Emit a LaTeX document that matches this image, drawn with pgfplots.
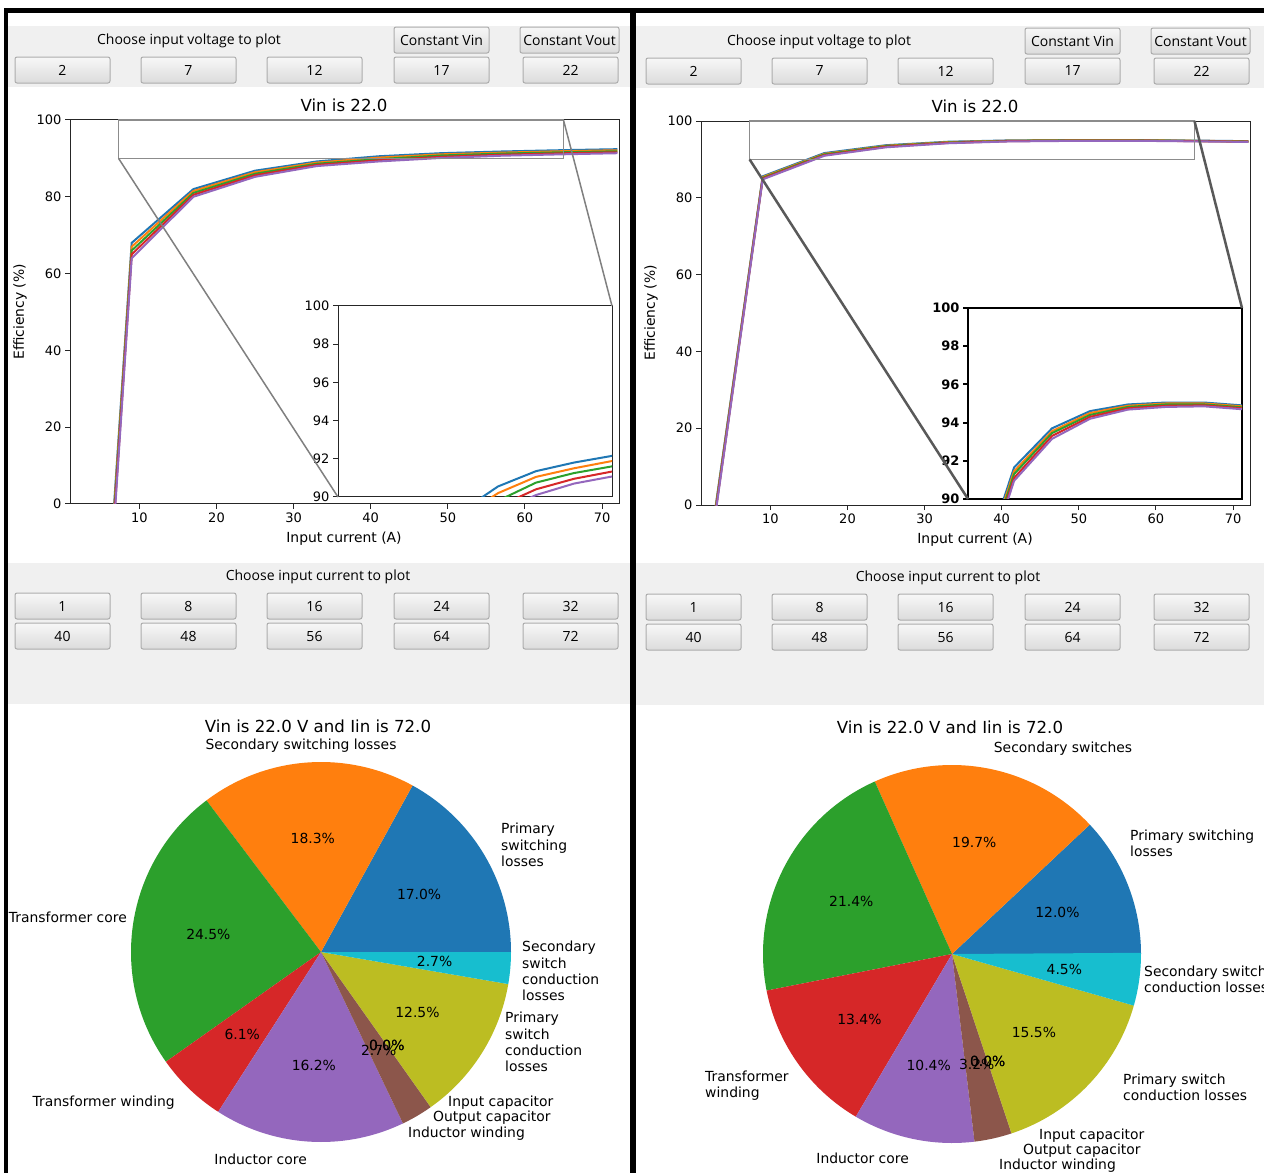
\documentclass[border=0pt]{standalone}
\usepackage{fontspec}
\setmainfont{DejaVu Sans}
\newfontfamily\guifont{Open Sans}
\usepackage{pgfplots}
\usepackage{pgfplotstable}
\pgfplotsset{compat=1.18}

\definecolor{tabblue}{HTML}{1F77B4}
\definecolor{taborange}{HTML}{FF7F0E}
\definecolor{tabgreen}{HTML}{2CA02C}
\definecolor{tabred}{HTML}{D62728}
\definecolor{tabpurple}{HTML}{9467BD}
\definecolor{tabbrown}{HTML}{8C564B}
\definecolor{tabpink}{HTML}{E377C2}
\definecolor{tabgray}{HTML}{7F7F7F}
\definecolor{tabolive}{HTML}{BCBD22}
\definecolor{tabcyan}{HTML}{17BECF}
\definecolor{guigray}{HTML}{F0F0F0}
\definecolor{btnline}{HTML}{ACACAC}

\newcommand\tickfs{\fontsize{13}{15}\selectfont}
\newcommand\labfs{\fontsize{13.9}{16.3}\selectfont}
\newcommand\titfs{\fontsize{16.6}{19}\selectfont}
\newcommand\guifs{\guifont\fontsize{14}{16}\selectfont}

% efficiency (%) vs input current (A), one column per curve
\pgfplotstableread{
I   b       o       g       r       p
1   -171    -173    -175    -177    -179
9   68.0    67.0    66.0    65.0    64.0
17  82.0    81.5    81.0    80.5    80.0
25  86.8    86.4    86.0    85.6    85.2
33  89.2    88.9    88.6    88.3    88.0
41  90.55   90.2    89.8    89.5    89.2
49  91.35   91.05   90.75   90.4    90.1
57  91.8    91.5    91.25   90.95   90.7
65  92.15   91.88   91.6    91.33   91.07
72  92.4    92.12   91.85   91.6    91.35
}\effL

\pgfplotstableread{
I   b       o       g       r       p
1   -27     -27.5   -28     -28.5   -29
9   85.6    85.4    85.2    85.0    84.8
17  91.65   91.45   91.3    91.1    90.95
25  93.7    93.55   93.45   93.3    93.15
33  94.6    94.5    94.4    94.3    94.2
41  94.95   94.88   94.82   94.75   94.68
49  95.05   95.0    94.95   94.88   94.82
57  95.05   95.0    94.95   94.9    94.85
65  94.9    94.85   94.8    94.75   94.7
72  94.75   94.7    94.65   94.6    94.55
}\effR

\newcommand\curves[1]{%
  \addplot[tabblue] table[x=I,y=b]{#1};
  \addplot[taborange] table[x=I,y=o]{#1};
  \addplot[tabgreen] table[x=I,y=g]{#1};
  \addplot[tabred] table[x=I,y=r]{#1};
  \addplot[tabpurple] table[x=I,y=p]{#1};
}

\pgfplotsset{
  eff/.style={scale only axis, width=549pt, height=384pt, anchor=south west,
    xmin=1, xmax=72.2, ymin=0, ymax=100,
    xtick={10,20,...,70}, ytick={0,20,...,100},
    tick align=outside, xtick pos=left, ytick pos=left, major tick length=5pt,
    axis line style={black!85, line width=1pt}, tick style={black!85, line width=1pt},
    ticklabel style={font=\tickfs}, /pgf/number format/assume math mode=true,
    every axis plot/.append style={line width=2pt, mark=none}},
  zoom/.style={scale only axis, width=274pt, height=191pt, anchor=south west,
    xmin=7.3, xmax=65, ymin=90, ymax=100, xtick=\empty, ytick={90,92,...,100},
    tick align=outside, ytick pos=left, major tick length=5pt,
    axis background/.style={fill=white},
    axis line style={black!85, line width=1pt}, tick style={black!85, line width=1pt},
    ticklabel style={font=\tickfs}, /pgf/number format/assume math mode=true,
    every axis plot/.append style={line width=2pt, mark=none}},
  pie/.style={x=190pt, y=190pt, xmin=-1.1, xmax=1.1, ymin=-1.1, ymax=1.1,
    hide axis, clip=false, anchor=origin}
}

\tikzset{btn/.style={draw=btnline, line width=1pt, rounded corners=2pt,
  top color=white!97!black, bottom color=white!86!black}}

\begin{document}
\begin{tikzpicture}

% window background, button bands and buttons
\begin{scope}[x=1pt,y=-1pt]
\fill[white] (0,0) rectangle (1264,1173);
\fill[guigray] (8,26) rectangle (630,87);
\fill[guigray] (636,26) rectangle (1264,88);
\fill[guigray] (8,563) rectangle (630,704);
\fill[guigray] (636,563) rectangle (1264,705);
\foreach \dx/\dy in {0/0,631/1}{
  \foreach \xa/\xb/\t in {15/110/2,141/236/7,267/362/12,394/489/17,523/618/22}{
    \draw[btn] ({\xa+\dx},{57+\dy}) rectangle ({\xb+\dx},{83+\dy});
    \node[font=\guifs] at ({(\xa+\xb)/2+\dx},{70+\dy}) {\t};
  }
  \foreach \xa/\xb/\t/\u in {15/110/1/40,141/236/8/48,267/362/16/56,394/489/24/64,523/618/32/72}{
    \draw[btn] ({\xa+\dx},{593+\dy}) rectangle ({\xb+\dx},{619+\dy});
    \node[font=\guifs] at ({(\xa+\xb)/2+\dx},{606+\dy}) {\t};
    \draw[btn] ({\xa+\dx},{623+\dy}) rectangle ({\xb+\dx},{649+\dy});
    \node[font=\guifs] at ({(\xa+\xb)/2+\dx},{636+\dy}) {\u};
  }
  \draw[btn] ({394+\dx},{27+\dy}) rectangle ({489+\dx},{53+\dy});
  \node[font=\guifs] at ({441.5+\dx},{40+\dy}) {Constant Vin};
  \draw[btn] ({520+\dx},{27+\dy}) rectangle ({619+\dx},{53+\dy});
  \node[font=\guifs] at ({569.5+\dx},{40+\dy}) {Constant Vout};
}
\node[font=\guifs] at (189,41) {Choose input voltage to plot};
\node[font=\guifs] at (819,42) {Choose input voltage to plot};
\node[font=\guifs] at (318,577) {Choose input current to plot};
\node[font=\guifs] at (948,578) {Choose input current to plot};

% plot titles and axis labels
\node[font=\titfs] at (344,105) {Vin is 22.0};
\node[font=\titfs] at (975,106) {Vin is 22.0};
\node[font=\labfs, rotate=90] at (20,312) {Efficiency (\%)};
\node[font=\labfs, rotate=90] at (651,313) {Efficiency (\%)};
\node[font=\labfs] at (344,539) {Input current (A)};
\node[font=\labfs] at (975,540) {Input current (A)};
\node[font=\titfs] at (318,726) {Vin is 22.0 V and Iin is 72.0};
\node[font=\titfs] at (950,727) {Vin is 22.0 V and Iin is 72.0};
\end{scope}

% left efficiency plot with zoom
\begin{axis}[eff, at={(70pt,-504pt)}]
\curves{\effL}
\coordinate (LA) at (axis cs:7.3,90);
\coordinate (LB) at (axis cs:65,100);
\end{axis}
\draw[black!45, line width=1.5pt] (LA) rectangle (LB);
\begin{axis}[zoom, at={(338pt,-497pt)}, name=insL]
\curves{\effL}
\end{axis}
\draw[black!50, line width=1.5pt] (LA) -- (insL.south west) (LB) -- (insL.north east);

% right efficiency plot with zoom
\begin{axis}[eff, at={(701pt,-505pt)}]
\curves{\effR}
\coordinate (RA) at (axis cs:7.3,90);
\coordinate (RB) at (axis cs:65,100);
\end{axis}
\draw[black!45, line width=1.5pt] (RA) rectangle (RB);
\begin{axis}[zoom, at={(968pt,-499pt)}, name=insR,
  axis line style={black, line width=2.5pt}, tick style={black, line width=2pt},
  ticklabel style={font=\tickfs\bfseries}]
\curves{\effR}
\end{axis}
\draw[black!65, line width=2.5pt] (RA) -- (insR.south west) (RB) -- (insR.north east);

% left pie
\begin{axis}[pie, at={(321pt,-952pt)}]
\xdef\cum{0}
\foreach \v/\c in {17.0/tabblue,18.3/taborange,24.5/tabgreen,6.1/tabred,16.2/tabpurple,2.7/tabbrown,0.0/tabpink,0.0/tabgray,12.5/tabolive,2.7/tabcyan}{
  \pgfmathsetmacro\s{\cum}
  \pgfmathsetmacro\e{\cum+3.6*\v}
  \edef\temp{\noexpand\fill[\c] (axis cs:0,0) -- (axis cs:{cos(\s)},{sin(\s)}) arc[start angle=\s,end angle=\e,radius=190pt] -- cycle;}
  \temp
  \xdef\cum{\e}
}
\xdef\cum{0}
\foreach \v in {17.0,18.3,24.5,6.1,16.2,2.7,0.0,0.0,12.5,2.7}{
  \pgfmathsetmacro\m{\cum+1.8*\v}
  \edef\temp{\noexpand\node[font=\noexpand\labfs] at (axis cs:{0.6*cos(\m)},{0.6*sin(\m)}) {\v\noexpand\%};}
  \temp
  \pgfmathsetmacro\e{\cum+3.6*\v}
  \xdef\cum{\e}
}
\end{axis}

% right pie
\begin{axis}[pie, x=189pt, y=189pt, at={(952pt,-954pt)}]
\xdef\cum{0}
\foreach \v/\c in {12.0/tabblue,19.7/taborange,21.4/tabgreen,13.4/tabred,10.4/tabpurple,3.2/tabbrown,0.0/tabpink,0.0/tabgray,15.5/tabolive,4.5/tabcyan}{
  \pgfmathsetmacro\s{\cum}
  \pgfmathsetmacro\e{\cum+3.6*\v}
  \edef\temp{\noexpand\fill[\c] (axis cs:0,0) -- (axis cs:{cos(\s)},{sin(\s)}) arc[start angle=\s,end angle=\e,radius=189pt] -- cycle;}
  \temp
  \xdef\cum{\e}
}
\xdef\cum{0}
\foreach \v in {12.0,19.7,21.4,13.4,10.4,3.2,0.0,0.0,15.5,4.5}{
  \pgfmathsetmacro\m{\cum+1.8*\v}
  \edef\temp{\noexpand\node[font=\noexpand\labfs] at (axis cs:{0.6*cos(\m)},{0.6*sin(\m)}) {\v\noexpand\%};}
  \temp
  \pgfmathsetmacro\e{\cum+3.6*\v}
  \xdef\cum{\e}
}
\end{axis}

% pie labels and window borders
\begin{scope}[x=1pt,y=-1pt, every node/.style={font=\labfs, align=left, inner sep=0pt}]
\node at (301,746) {Secondary switching losses};
\node[anchor=west] at (501,845) {Primary\\switching\\losses};
\node[anchor=east] at (127,917) {Transformer core};
\node[anchor=west] at (522,971) {Secondary\\switch\\conduction\\losses};
\node[anchor=west] at (505,1042) {Primary\\switch\\conduction\\losses};
\node[anchor=west] at (448,1103) {Input capacitor};
\node[anchor=west] at (433,1118) {Output capacitor};
\node[anchor=west] at (408,1134) {Inductor winding};
\node[anchor=east] at (175,1103) {Transformer winding};
\node[anchor=east] at (307,1159) {Inductor core};

\node at (1063,749) {Secondary switches};
\node[anchor=west] at (1130,843) {Primary switching\\losses};
\node[anchor=west] at (1144,979) {Secondary switch\\conduction losses};
\node[anchor=west] at (1123,1087) {Primary switch\\conduction losses};
\node[anchor=west] at (1039,1136) {Input capacitor};
\node[anchor=west] at (1023,1151) {Output capacitor};
\node[anchor=west] at (999,1166) {Inductor winding};
\node[anchor=west] at (705,1086) {Transformer\\winding};
\node[anchor=east] at (909,1158) {Inductor core};

\fill[black] (4,8) rectangle (1264,13);
\fill[black] (4,8) rectangle (8,1173);
\fill[black] (630,8) rectangle (636,1173);
\end{scope}

\pgfresetboundingbox
\path[use as bounding box] (0,0) rectangle (1264pt,-1173pt);
\end{tikzpicture}
\end{document}
